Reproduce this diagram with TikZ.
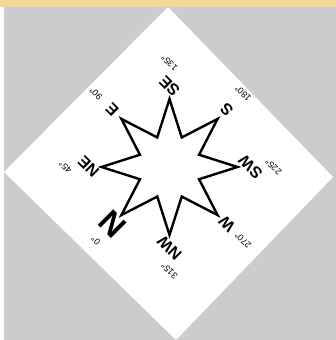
\documentclass[tikz,border=0pt]{standalone}
\usepackage{fontspec}
\setmainfont{Liberation Sans}
\usetikzlibrary{math}
\definecolor{cgray}{RGB}{204,204,204}
\definecolor{csand}{RGB}{242,218,150}

\begin{document}
\begin{tikzpicture}[x=1pt,y=1pt,
  tip/.style={font=\bfseries\fontsize{16}{16}\selectfont, rotate=135, inner sep=0},
  deg/.style={font=\fontsize{9}{9}\selectfont, rotate=135, inner sep=0}]
\tikzmath{
\Ro=68;
\Ri=32;
\Rl=81;
\Rd=104;
}

%frame:
 \useasboundingbox (0,0) rectangle (336,340);
 \fill[white] (0,0) rectangle (336,340);
 \fill[cgray] (4,0) rectangle (336,333);
 \fill[csand] (0,333) rectangle (336,340);
 \fill[white] (168,333) -- (333,163) -- (176,0) -- (4,168) -- cycle;

%star and labels:
 \begin{scope}[shift={(169.5,173)}, rotate=135]
  \draw[line width=2.4, line join=miter] (0:\Ro)
   \foreach \i in {0,...,7}{ -- (\i*45+22.5:\Ri) -- (\i*45+45:\Ro)} -- cycle;
  \foreach \p/\d in {NE/45, E/90, SE/135, S/180, SW/225, W/270, NW/315}{
   \node[tip] (l\p) at (90-\d:\Rl) {\p};
   \node[deg] (d\p) at (90-\d:\Rd) {\d°};
  }
  \node[tip, font=\bfseries\fontsize{32}{32}\selectfont] (lN) at (90:\Rl) {N};
  \node[deg] (dN) at (90:\Rd) {0°};
 \end{scope}
\end{tikzpicture}
\end{document}
